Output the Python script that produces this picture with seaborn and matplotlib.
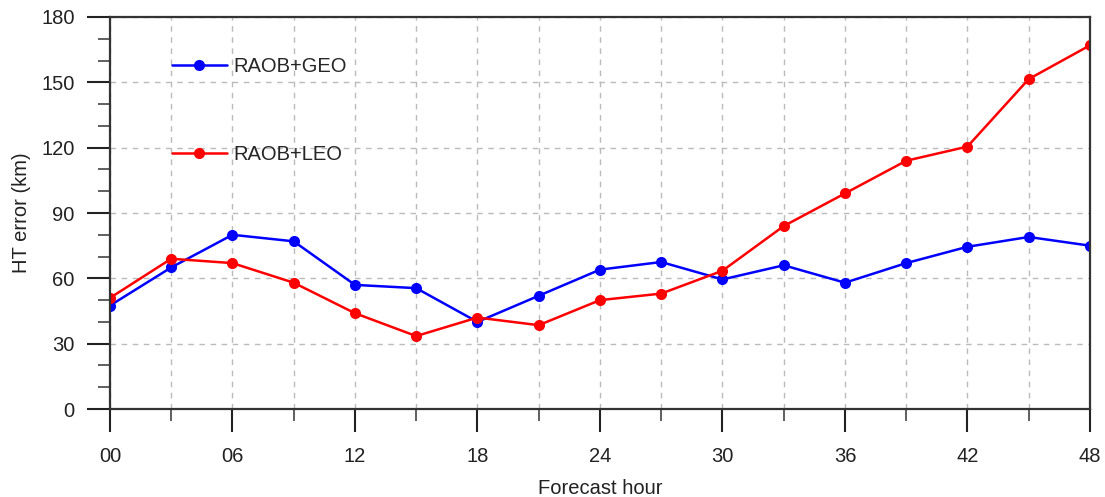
import numpy as np
import pandas as pd
import matplotlib
matplotlib.use("Agg")
import matplotlib.pyplot as plt
import seaborn as sns
from matplotlib.ticker import MultipleLocator

hours = [0, 3, 6, 9, 12, 15, 18, 21, 24, 27, 30, 33, 36, 39, 42, 45, 48]
geo = [47.5, 65, 80, 77, 57, 55.5, 40, 52, 64, 67.5, 59.5, 66, 58, 67, 74.5, 79, 75]
leo = [51, 69, 67, 58, 44, 33.5, 42, 38.5, 50, 53, 63.5, 84, 99, 114, 120.5, 151.5, 167]
series = ["RAOB+GEO", "RAOB+LEO"]
xticks = [0, 6, 12, 18, 24, 30, 36, 42, 48]
xlabels = ["00", "06", "12", "18", "24", "30", "36", "42", "48"]

df = pd.DataFrame({
    "hour": hours * 2,
    "err": geo + leo,
    "run": [series[0]] * len(hours) + [series[1]] * len(hours),
})

sns.set_style("white")
plt.rcParams["font.family"] = ["Liberation Sans", "DejaVu Sans"]

fig, ax = plt.subplots(figsize=(11.05, 4.97), dpi=100)
sns.lineplot(data=df, x="hour", y="err", hue="run", palette=["#0000ff", "#ff0000"],
             marker="o", markersize=8, markeredgewidth=0, linewidth=1.8, ax=ax)

ax.set_xlim(0, 48)
ax.set_ylim(0, 180)
ax.set_xticks(xticks)
ax.set_xticklabels(xlabels)
ax.set_yticks(np.arange(0, 181, 30))
ax.xaxis.set_minor_locator(MultipleLocator(3))
ax.yaxis.set_minor_locator(MultipleLocator(10))
ax.tick_params(axis="both", which="major", direction="out", length=16.5, width=1.5,
               labelsize=14.5, colors="#222222", bottom=True, left=True)
ax.tick_params(axis="both", which="minor", direction="out", length=8.5, width=1.2,
               colors="#444444", bottom=True, left=True)
ax.tick_params(axis="x", which="major", pad=11)
ax.tick_params(axis="y", which="major", pad=9)
grid_kw = dict(linestyle=(0, (4, 4)), color="#bbbbbb", linewidth=1)
ax.grid(True, which="major", axis="y", **grid_kw)
ax.grid(True, which="both", axis="x", **grid_kw)
for s in ax.spines.values():
    s.set_color("#333333")
    s.set_linewidth(1.6)

ax.set_xlabel("Forecast hour", fontsize=14.5, color="#222222", labelpad=9)
ax.set_ylabel("HT error (km)", fontsize=14.5, color="#222222", labelpad=7)

ax.legend(loc="upper left", bbox_to_anchor=(0.045, 0.945), frameon=False, fontsize=14.5,
          handlelength=2.7, labelspacing=3.45, handletextpad=0.35)

fig.subplots_adjust(left=0.0995, right=0.9864, top=0.9658, bottom=0.177)
fig.savefig("out.png", dpi=100)
